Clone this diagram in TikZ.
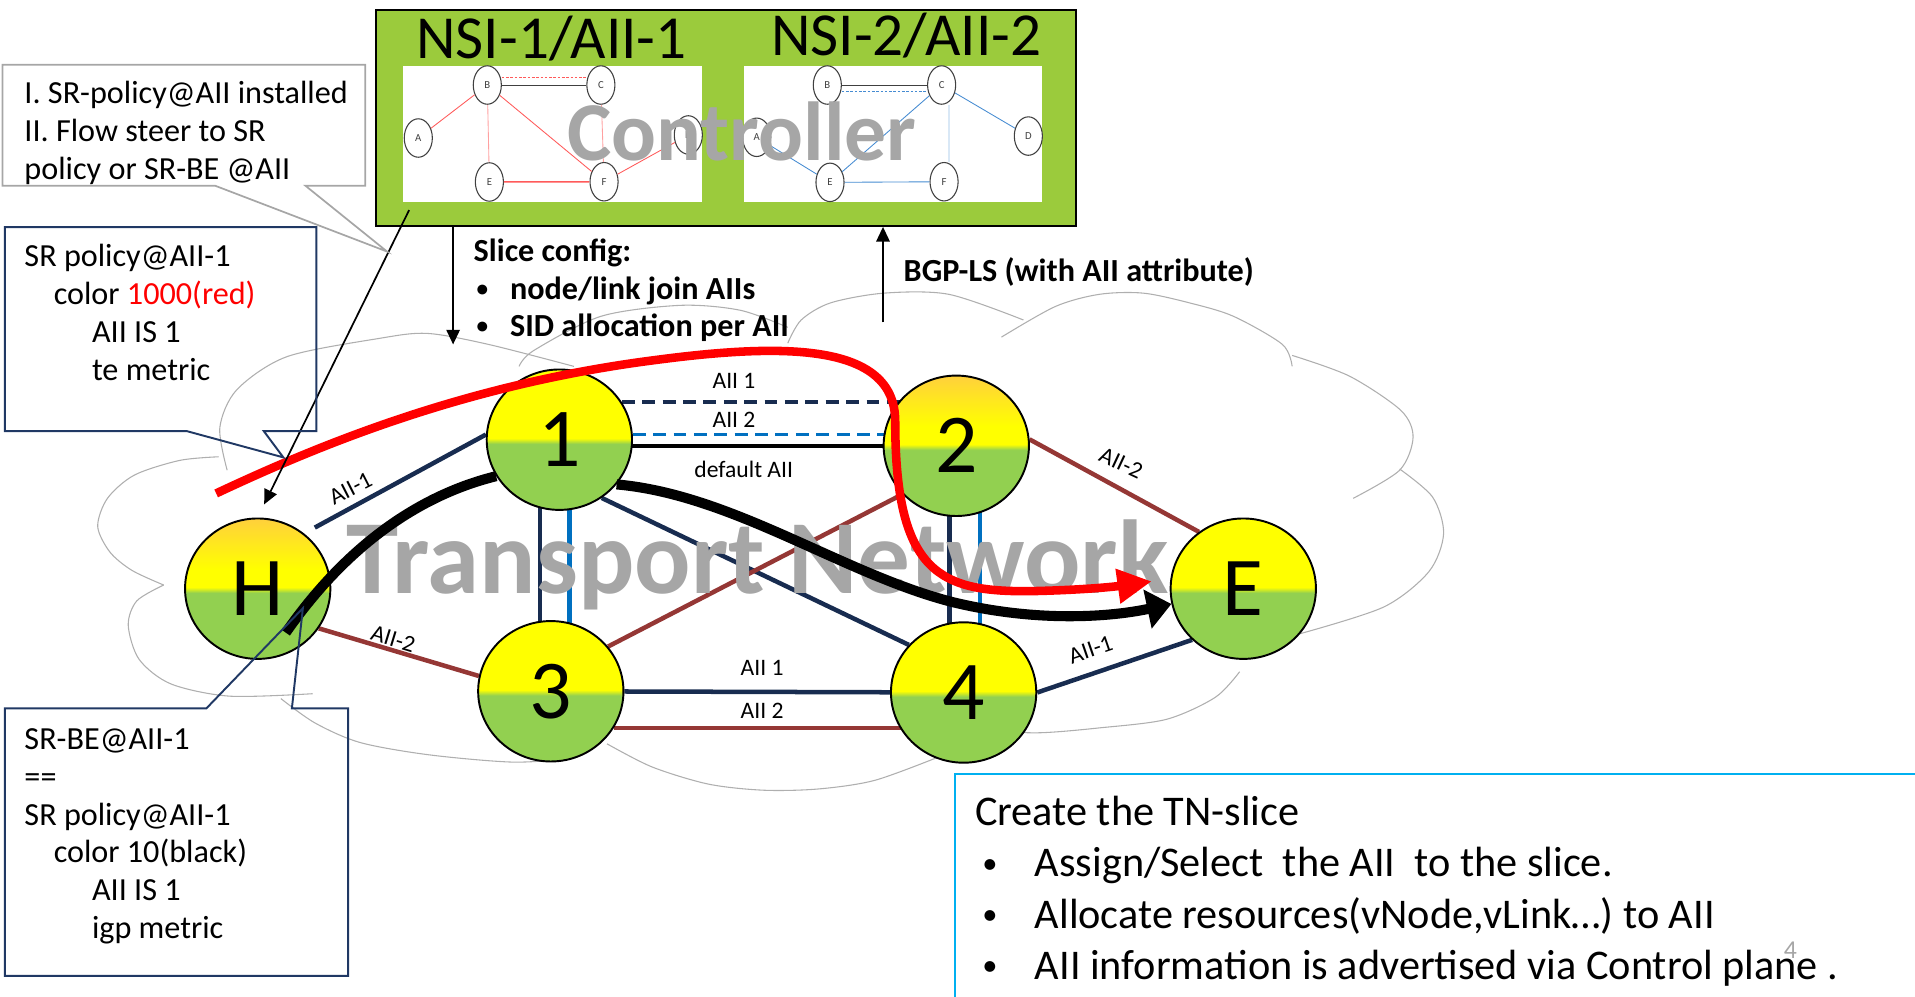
\documentclass[tikz,border=0pt]{standalone}
\usepackage{fontspec}
\setmainfont{Carlito}
\usepackage{tikz}
\usetikzlibrary{%
  arrows.meta,%
  shapes.geometric,% ellipse
  backgrounds,% on background layer
  positioning%
}

\definecolor{ctrlgreen}{RGB}{155,203,60}
\definecolor{nodeyellow}{RGB}{255,255,0}
\definecolor{nodegreen}{RGB}{146,208,80}
\definecolor{nodegold}{RGB}{255,208,60}
\definecolor{aiinavy}{RGB}{24,44,80}
\definecolor{aiibrown}{RGB}{149,55,53}
\definecolor{aiiblue}{RGB}{0,112,192}
\definecolor{cloudgray}{RGB}{175,175,175}
\definecolor{textgray}{RGB}{166,166,166}
\definecolor{navyline}{RGB}{32,56,100}
\definecolor{tnblue}{RGB}{0,176,240}
\definecolor{minired}{RGB}{255,90,90}
\definecolor{minipink}{RGB}{255,160,160}
\definecolor{miniblue}{RGB}{70,140,210}
\definecolor{minilightblue}{RGB}{150,190,230}

\pgfdeclareverticalshading{routerfill}{100bp}{color(0bp)=(nodegreen); color(48.5bp)=(nodegreen); color(50.5bp)=(nodeyellow); color(100bp)=(nodeyellow)}
\pgfdeclareverticalshading{routerfillgold}{100bp}{color(0bp)=(nodegreen); color(48.5bp)=(nodegreen); color(50.5bp)=(nodeyellow); color(57bp)=(nodeyellow); color(75bp)=(nodegold); color(100bp)=(nodegold)}

% small list bullet
\newcommand{\listdot}{\raisebox{0.09em}{\scalebox{0.72}{\textbullet}}}

\begin{document}
\begin{tikzpicture}[x=0.02cm, y=-0.02cm, >={Triangle[width=0.22cm,length=0.24cm]}]
  \tikzset{router/.style={ellipse, draw, line width=0.9pt, minimum width=2.38cm, minimum height=2.3cm,
      inner sep=0pt, shade, shading=routerfill, font=\fontsize{39}{40}\selectfont}}
  \tikzset{gold router/.style={router, shading=routerfillgold}}

  \tikzset{ctrlbox/.style={rectangle, draw, line width=0.9pt, fill=ctrlgreen, minimum width=11.46cm, minimum height=3.54cm}}
  \tikzset{panel/.style={rectangle, fill=white, inner sep=0pt, minimum height=2.22cm}}
  \tikzset{mini/.style={ellipse, draw=darkgray, line width=0.5pt, fill=white, minimum width=0.46cm,
      minimum height=0.63cm, inner sep=0pt, text=darkgray, font=\fontsize{5}{6}\selectfont}}
  \tikzset{minitie/.style={line width=0.4pt}}

  \tikzset{linkone/.style={draw=aiinavy, line width=2.1pt}}
  \tikzset{linktwo/.style={draw=aiibrown, line width=2.1pt}}
  \tikzset{linkblue/.style={draw=aiiblue, line width=2.1pt}}
  \tikzset{linkdef/.style={draw=black, line width=2pt}}
  \tikzset{dashlink/.style={line width=1.6pt, dash pattern=on 6pt off 3.5pt}}
  \tikzset{linklabel/.style={inner sep=0pt, font=\fontsize{11}{13}\selectfont}}
  \tikzset{cloudarc/.style={draw=cloudgray, line width=0.5pt}}

  \tikzset{srte/.style={draw=red, line width=0.14cm, -{Triangle[width=0.54cm,length=0.56cm]}}}
  \tikzset{srbe/.style={draw=black, line width=0.165cm}}

  \tikzset{calltext/.style={inner sep=0pt, anchor=base west, font=\fontsize{15}{17.6}\selectfont}}
  \tikzset{infotext/.style={inner sep=0pt, anchor=base west, font=\bfseries\fontsize{15}{17.6}\selectfont}}
  \tikzset{boxtext/.style={inner sep=0pt, anchor=base west, font=\fontsize{19.7}{24}\selectfont}}
  \tikzset{callgray/.style={draw=textgray, line width=0.8pt}}
  \tikzset{callnavy/.style={draw=navyline, line width=0.9pt}}

  \useasboundingbox (0,0) rectangle (1568,816);

  % controller with the two slice views
  \node[ctrlbox] (ctrl) at (594.5,96.5) {};
  \node[panel, minimum width=4.9cm] (lpanel) at (452.7,109.5) {};
  \node[panel, minimum width=4.88cm] (rpanel) at (731,109.5) {};

  \foreach \n/\x/\y in {A/342.5/113, B/399/69.6, C/492/69.6, D/563.6/110.5, E/400.7/149, F/494.6/148.8}
    \node[mini] (l\n) at (\x,\y) {\n};
  \draw[minitie, draw=minired] (lA) -- (lB);
  \draw[minitie, draw=minipink] (lB) -- (lE);
  \draw[minitie, draw=minired] (lB) -- (lF);
  \draw[minitie, draw=minired, line width=0.7pt] (lE) -- (lF);
  \draw[minitie, draw=minired] (lF) -- (lD);
  \draw[minitie, draw=minipink] (lC) -- (lF);
  \draw[minitie, draw=darkgray] (lB) -- (lC);
  \draw[minitie, draw=minired, dash pattern=on 1.2pt off 0.8pt] ([yshift=0.126cm]lB.east) -- ([yshift=0.126cm]lC.west);

  \foreach \n/\x/\y in {A/619.6/112.4, B/677.4/69.6, C/771/69.6, D/842/111.4, E/679.6/149.3, F/773/148.8}
    \node[mini] (r\n) at (\x,\y) {\n};
  \draw[minitie, draw=darkgray] (rB) -- (rC);
  \draw[minitie, draw=miniblue, dash pattern=on 1.2pt off 0.8pt] ([yshift=-0.1cm]rB.east) -- ([yshift=-0.1cm]rC.west);
  \draw[minitie, draw=miniblue] (rC) -- (rD);
  \draw[minitie, draw=miniblue] (rC) -- (rE);
  \draw[minitie, draw=minilightblue] ([xshift=0.12cm]rC.south) -- ([xshift=0.08cm]rF.north);
  \draw[minitie, draw=miniblue] (rE) -- (rF);
  \draw[minitie, draw=miniblue] (rA) -- (rE);

  \node[inner sep=0pt, anchor=base, font=\fontsize{28.5}{30}\selectfont] (nsione) at (451.5,47.8) {NSI-1/AII-1};
  \node[inner sep=0pt, anchor=base, font=\fontsize{28.5}{30}\selectfont] (nsitwo) at (742,45.5) {NSI-2/AII-2};
  \node[inner sep=0pt, anchor=base, text=textgray, font=\bfseries\fontsize{39}{40}\selectfont] (ctrllabel) at (607.5,131) {Controller};

  % transport network
  \node[gold router] (H) at (211,482) {H};
  \node[router] (n1) at (458,360) {1};
  \node[gold router] (n2) at (783,365) {2};
  \node[router] (n3) at (451,566) {3};
  \node[router] (n4) at (789,567) {4};
  \node[router] (E) at (1018,482) {E};

  \begin{scope}[on background layer]
    \draw[cloudarc] plot[smooth] coordinates {(179,374) (147,377) (110,389) (88,408) (80,431) (90,452) (108,467) (134,479)};
    \draw[cloudarc] plot[smooth] coordinates {(134,479) (112,492) (105,512) (114,540) (140,560) (188,570) (256,568)};
    \draw[cloudarc] plot[smooth] coordinates {(230,572) (258,592) (295,608) (351,618) (420,624) (470,621)};
    \draw[cloudarc] plot[smooth] coordinates {(497,609) (534,628) (580,642) (625,647) (670,646) (716,639) (768,620)};
    \draw[cloudarc] plot[smooth] coordinates {(800,598) (850,600) (900,596) (955,589) (995,571) (1015,550)};
    \draw[cloudarc] plot[smooth] coordinates {(1064,519) (1133,497) (1170,468) (1182,437) (1173,407) (1146,384)};
    \draw[cloudarc] plot[smooth] coordinates {(1108,408) (1146,385) (1157,358) (1147,336) (1105,308) (1058,291)};
    \draw[cloudarc] plot[smooth] coordinates {(1058,300) (1050,282) (1010,259) (974,248) (936,240) (900,241) (864,251) (820,276)};
    \draw[cloudarc] plot[smooth] coordinates {(838,262) (777,241) (724,240) (680,248) (656,262) (645,281)};
    \draw[cloudarc] plot[smooth] coordinates {(645,268) (606,254) (557,250) (492,259) (437,287) (425,300)};
    \draw[cloudarc] plot[smooth] coordinates {(470,300) (400,282) (350,273) (311,277) (235,292) (194,319) (180,350) (186,385)};

    \draw[linkone, shorten <=0.2cm] (H.50) -- (n1.176);
    \draw[linktwo] (H.-33) -- (n3.168);
    \draw[linkone] ([xshift=-0.314cm]n1.center) -- ([xshift=-0.314cm]n1.center |- n3.center);
    \draw[linkblue] ([xshift=0.162cm]n1.center) -- ([xshift=0.162cm]n1.center |- n3.center);
    \draw[linkone] (n1.-54) -- (n4.139);
    \draw[linkone, dashlink] (n1.31) -- (n1.31 -| n2);
    \draw[linkblue, dashlink] (n1.4) -- (n1.4 -| n2);
    \draw[linkdef] (n2) -- (n2 -| n1);
    \draw[linktwo] (n2.222) -- (n3.38);
    \draw[linkone] ([xshift=-0.11cm]n2.center) -- ([xshift=-0.11cm]n2.center |- n4.center);
    \draw[linkblue] ([xshift=0.39cm]n2.center) -- ([xshift=0.39cm]n2.center |- n4.center);
    \draw[linktwo] (n2.5) -- (E.128);
    \draw[linkone] (n3) -- (n4);
    \draw[linktwo] (n3.-30) -- (n3.-30 -| n4);
    \draw[linkone] (n4.0) -- (E.225);

    \node[linklabel] (lb12a) at (601,312) {AII 1};
    \node[linklabel] (lb12b) at (601,344) {AII 2};
    \node[linklabel] (lb12d) at (609,384) {default AII};
    \node[linklabel] (lb34a) at (624,547) {AII 1};
    \node[linklabel] (lb34b) at (624,582) {AII 2};
    \node[linklabel, rotate=27] (lbh1) at (287,400) {AII-1};
    \node[linklabel, rotate=-17] (lbh3) at (322,523) {AII-2};
    \node[linklabel, rotate=-25] (lb2e) at (918,379) {AII-2};
    \node[linklabel, rotate=19] (lb4e) at (893,532) {AII-1};

    \node[inner sep=0pt, anchor=base west, text=textgray, font=\bfseries\fontsize{49}{50}\selectfont] (tnlabel) at (283,486) {Transport Network};
  \end{scope}

  % SR-BE path (black) and SR policy path (red)
  \coordinate (bestart) at (234,518);
  \draw[srbe] (bestart) .. controls (285,445) and (345,405) .. (n1.210);
  \draw[srbe, -{Triangle[width=0.63cm,length=0.4cm]}] (n1.-38) .. controls (600,405) and (690,470) .. (780,493) .. controls (850,510) and (910,505) .. (E);

  \coordinate (redstart) at (177,404);
  \coordinate (redtip) at (943,476);
  \draw[srte] (redstart) .. controls (260,365) and (380,315) .. (535,295) .. controls (640,281) and (733,280) .. (733,345) .. controls (733,470) and (770,485) .. (845,484) .. controls (890,483) and (915,480) .. (redtip);

  % control plane arrows
  \coordinate (slicetip) at (371,282);
  \coordinate (bgptail) at (723,264);
  \coordinate (polstart) at (335,172);
  \draw[->, line width=0.8pt](ctrl.south -| slicetip) -- (slicetip);
  \draw[->, line width=0.8pt](bgptail) -- (bgptail |- ctrl.south);
  \draw[->, line width=0.8pt, shorten >=0.24cm](polstart) -- (H.north);

  \node[infotext] (slice) at (387.5,214.2) {Slice config:};
  \foreach \i/\txt in {1/{node/link join AIIs}, 2/{SID allocation per AII}} {
    \node[infotext] (slicebul\i) at (390,214.2+30.75*\i) {\listdot};
    \node[infotext] (slice\i) at (417.3,214.2+30.75*\i) {\txt};
  }
  \node[infotext] (bgp) at (739.6,230.6) {BGP-LS (with AII attribute)};

  % callouts
  \foreach \i/\txt in {0/{I. SR-policy@AII installed}, 1/{II. Flow steer to SR}, 2/{policy or SR-BE @AII}}
    \node[calltext] (inst\i) at (19.7,84.6+31*\i) {\txt};
  \draw[callgray] (2,53) -- (299,53) -- (299,152) -- (250,152) -- (317,206) -- (176,152) -- (2,152) -- cycle;

  \foreach \i/\x/\txt in {0/19.7/{SR policy@AII-1}, 1/43.7/{color \textcolor{red}{1000(red)}}, 2/75/{AII IS 1}, 3/75/{te metric}}
    \node[calltext] (red\i) at (\x,218.3+31*\i) {\txt};
  \draw[callnavy] (4,186) -- (259,186) -- (259,353) -- (216,353) -- (232,374.5) -- (153,353) -- (4,353) -- cycle;

  \foreach \i/\x/\txt in {0/19.7/{SR-BE@AII-1}, 1/19.7/{==}, 2/19.7/{SR policy@AII-1}, 3/43.7/{color 10(black)}, 4/75/{AII IS 1}, 5/75/{igp metric}}
    \node[calltext] (black\i) at (\x,613.5+31*\i) {\txt};
  \draw[callnavy] (4,580) -- (169,580) -- (248,498) -- (239,580) -- (285,580) -- (285,799) -- (4,799) -- cycle;

  % TN-slice steps
  \node[inner sep=0pt, text=gray!70, font=\fontsize{12}{14}\selectfont] (slideno) at (1466,778) {4};
  \draw[draw=tnblue, line width=0.8pt] (782,816) |- (1568,634);
  \node[boxtext] (tnhead) at (798,676) {Create the TN-slice};
  \foreach \i/\txt in {1/{Assign/Select~ the AII~ to the slice.}, 2/{Allocate resources(vNode,vLink…) to AII}, 3/{AII information is advertised via Control plane .}} {
    \node[boxtext] (tnbul\i) at (804,676+42*\i) {\listdot};
    \node[boxtext] (tnitem\i) at (847,676+42*\i) {\txt};
  }
\end{tikzpicture}
\end{document}
